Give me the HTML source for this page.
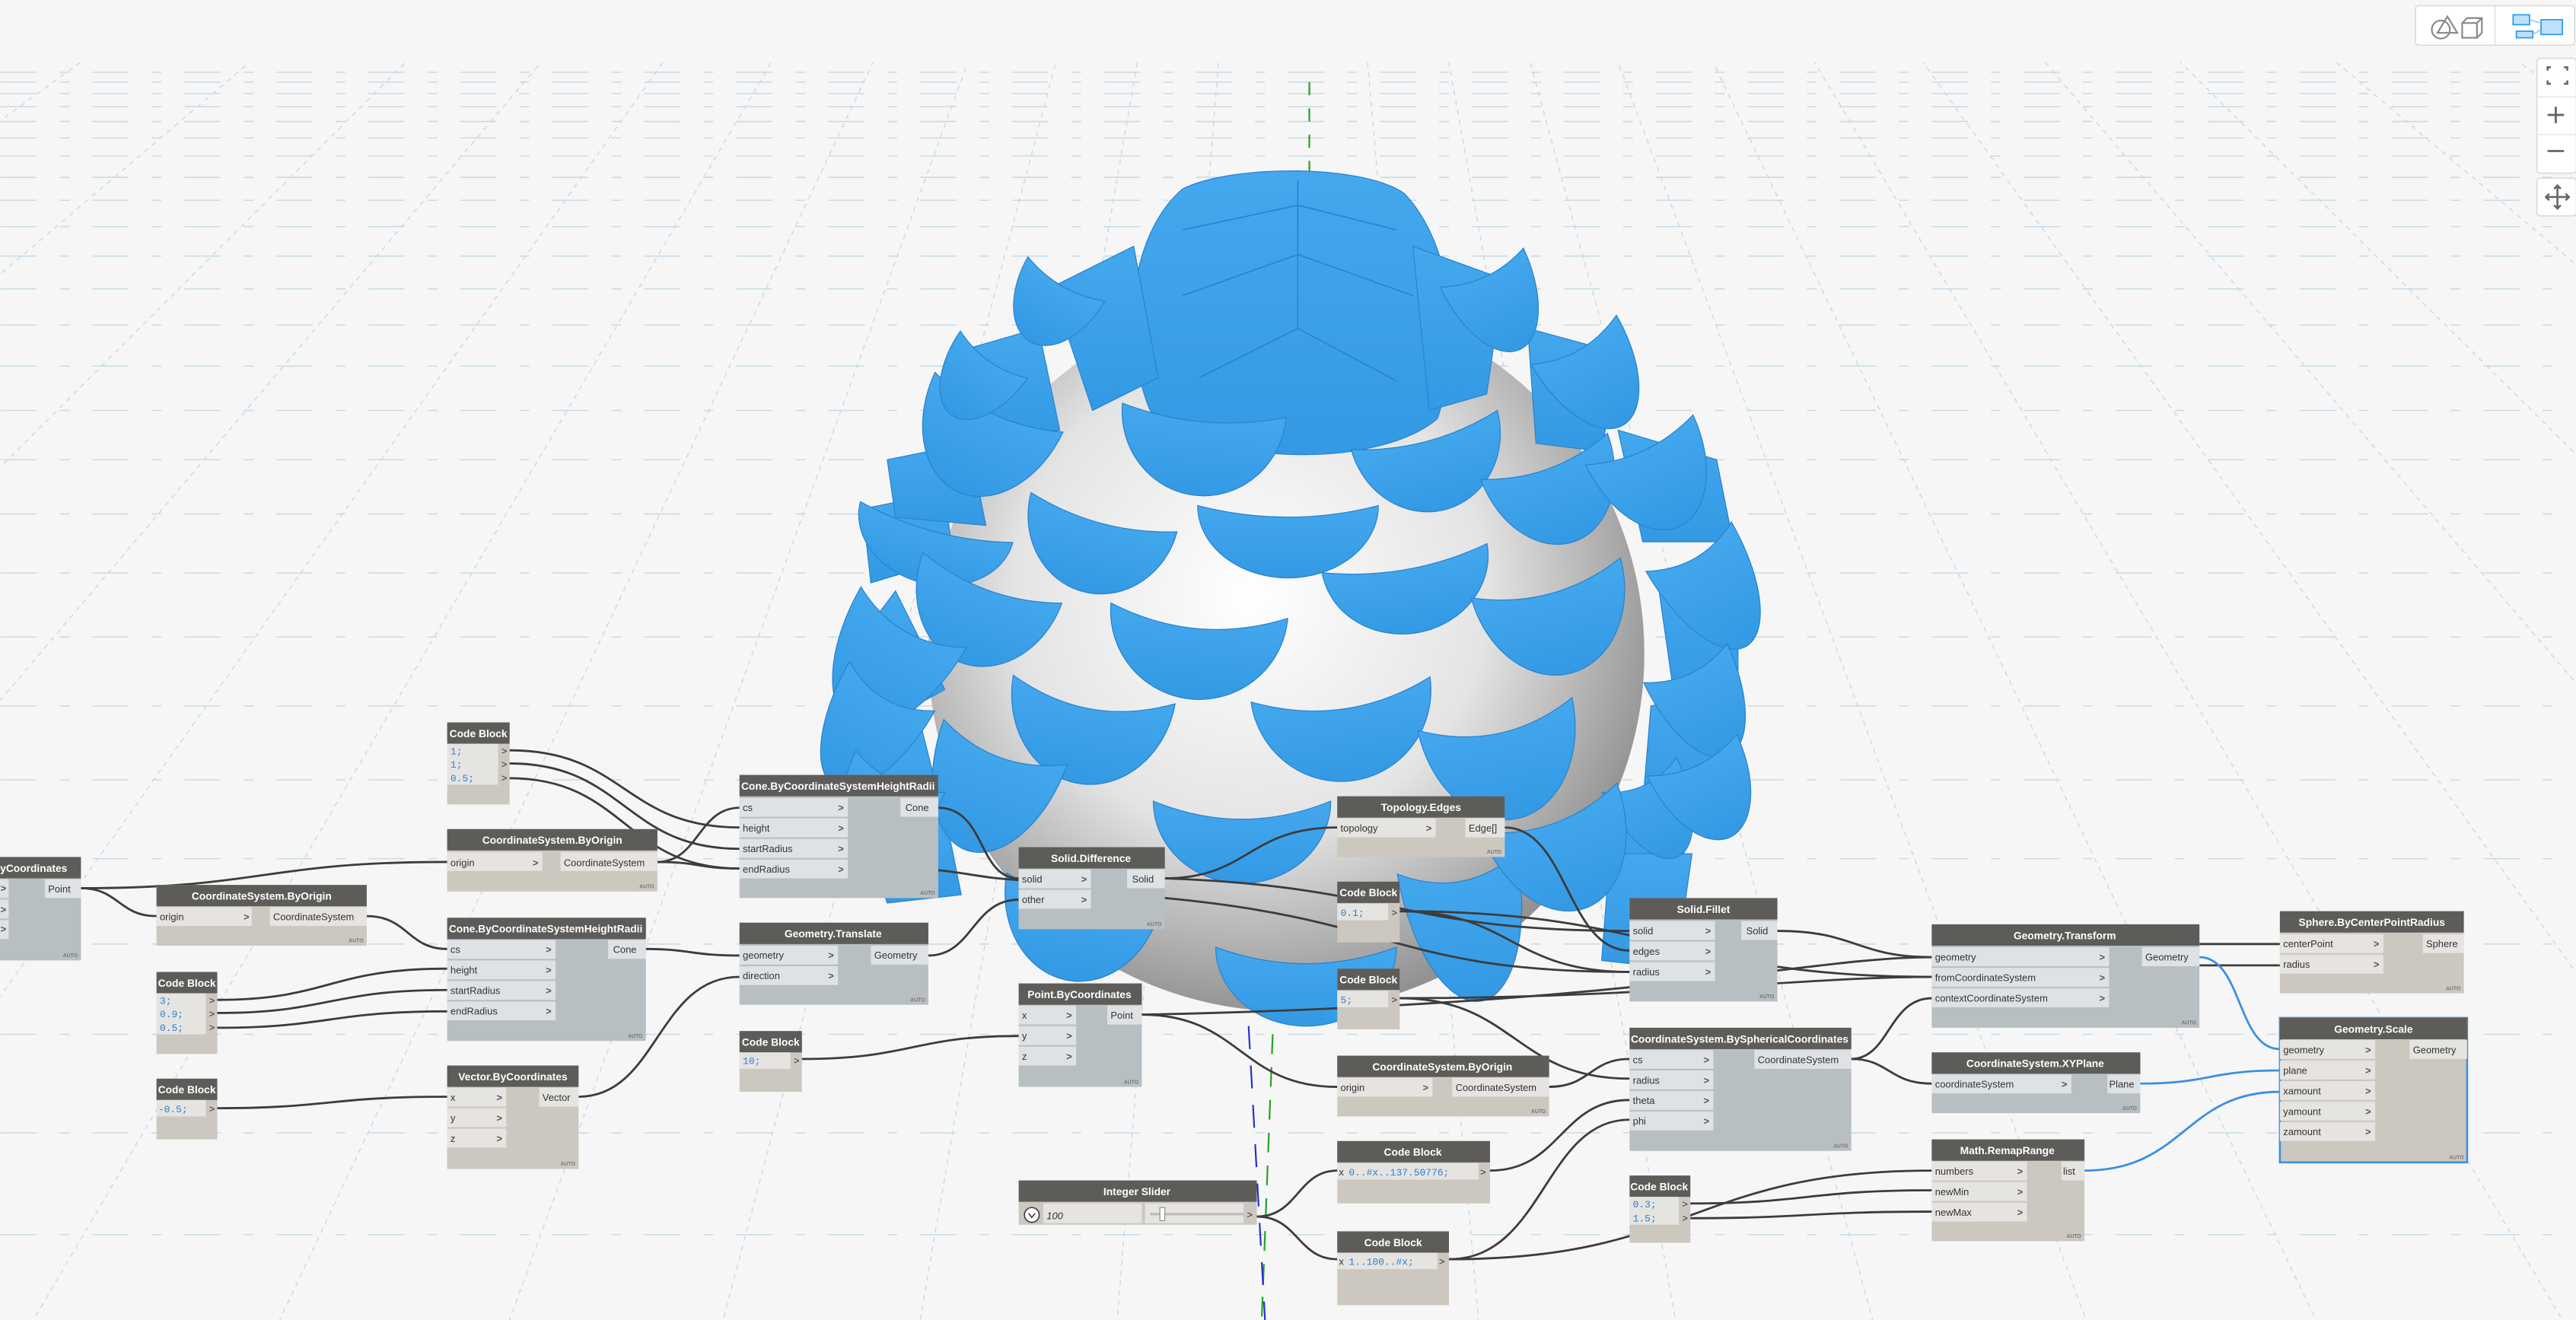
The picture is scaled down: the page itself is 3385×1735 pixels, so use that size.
<!DOCTYPE html>
<html><head><meta charset="utf-8"><style>
html,body{margin:0;padding:0;background:#f6f6f6;overflow:hidden}
svg{display:block}
.h{font:600 6.4px "Liberation Sans",sans-serif;fill:#fff;text-anchor:middle}
.l{font:6px "Liberation Sans",sans-serif;fill:#333}
.c{font:6px "Liberation Mono",monospace;fill:#2a7fd4}
.a{font:bold 3.2px "Liberation Sans",sans-serif;fill:#777;text-anchor:end}
.g{font:bold 6px "Liberation Sans",sans-serif;fill:#555}
.w{fill:none;stroke:#3c3c3c;stroke-width:1.3}
.wb{fill:none;stroke:#3a8fe0;stroke-width:1.3}
.p{fill:url(#pg);stroke:#2a84cf;stroke-width:.6}
</style></head><body>
<svg width="3385" height="1735" viewBox="0 0 1568 804" xmlns="http://www.w3.org/2000/svg">
<defs>
<radialGradient id="sg" cx="0.45" cy="0.42" r="0.6"><stop offset="0" stop-color="#ffffff"/><stop offset="0.55" stop-color="#e4e4e4"/><stop offset="1" stop-color="#8e8e8e"/></radialGradient>
<linearGradient id="pg" x1="0" y1="0" x2="0" y2="1"><stop offset="0" stop-color="#44a8ee"/><stop offset="1" stop-color="#3399e4"/></linearGradient>
<clipPath id="gc"><rect x="0" y="38" width="1568" height="766"/></clipPath>
</defs>
<rect width="1568" height="804" fill="#f6f6f6"/>
<g clip-path="url(#gc)" stroke="#c9dae6" stroke-width="0.7" fill="none">
<g stroke-dasharray="3 3">
<path d="M785,-500 L-1600,804 M785,-500 L-1300,804 M785,-500 L-1000,804 M785,-500 L-750,804 M785,-500 L-520,804 M785,-500 L-320,804 M785,-500 L-140,804 M785,-500 L20,804 M785,-500 L170,804 M785,-500 L310,804 M785,-500 L440,804 M785,-500 L560,804 M785,-500 L680,804 M785,-500 L900,804 M785,-500 L1020,804 M785,-500 L1140,804 M785,-500 L1270,804 M785,-500 L1410,804 M785,-500 L1560,804 M785,-500 L1720,804 M785,-500 L1900,804 M785,-500 L2100,804 M785,-500 L2330,804 M785,-500 L2600,804 M785,-500 L2900,804 M785,-500 L3250,804"/>
</g>
<g stroke-dasharray="22 14 6 14">
<path d="M0,44H1568 M0,50H1568 M0,57H1568 M0,65H1568 M0,74H1568 M0,84H1568 M0,95H1568 M0,108H1568 M0,122H1568 M0,138H1568 M0,156H1568 M0,176H1568 M0,198H1568 M0,223H1568 M0,250H1568 M0,280H1568 M0,313H1568 M0,349H1568 M0,388H1568 M0,430H1568 M0,475H1568 M0,523H1568 M0,575H1568 M0,630H1568 M0,690H1568 M0,752H1568"/>
</g>
</g>
<!-- axis -->
<path d="M797,50V110" stroke="#22a020" stroke-width="1" stroke-dasharray="8 8"/>
<path d="M777,570L768,804" stroke="#22a020" stroke-width="1" stroke-dasharray="12 8"/>
<path d="M760,625L770,804" stroke="#2030d0" stroke-width="1" stroke-dasharray="14 10"/>
<!-- sphere -->
<circle cx="783" cy="398" r="218" fill="url(#sg)"/>
<!-- crown -->
<g class="p">
<path d="M700,250 C680,200 690,140 720,115 C750,100 830,100 855,118 C885,150 890,210 875,255 C840,285 740,285 700,250Z"/>
<path d="M640,175 L690,150 L705,230 L665,250Z"/>
<path d="M860,150 L915,170 L905,240 L870,250Z"/>
<path d="M580,215 L632,200 L645,262 L600,268Z"/>
<path d="M930,200 L985,215 L975,275 L935,270Z"/>
<path d="M985,262 L1045,280 L1055,330 L1000,330Z"/>
<path d="M525,310 L575,300 L580,340 L530,355Z"/>
<path d="M515,400 L545,360 L575,420 L520,450Z"/>
<path d="M515,460 L560,440 L580,520 L525,505Z"/>
<path d="M1010,360 L1058,345 L1058,420 L1020,430Z"/>
<path d="M1005,430 L1055,420 L1050,500 L1000,490Z"/>
<path d="M990,490 L1030,480 L1020,560 L985,560Z"/>
<path d="M540,280 L590,270 L600,320 L545,315Z"/>
<path d="M980,520 L1030,520 L1020,590 L975,585Z"/>
<path d="M525,505 L575,495 L585,545 L540,550Z"/>
</g>
<path d="M720,180 L790,155 L860,180 M730,230 L790,200 L850,232 M790,110V200 M720,140 L790,125 L850,140" fill="none" stroke="#2a84cf" stroke-width="0.8"/>
<g class="p">
<path d="M-55,0 A55 44 0 0 0 55,0 Q0,14 -55,0Z" transform="translate(784,308)"/>
<path d="M-46,0 A46 50 0 0 0 46,0 Q0,14 -46,0Z" transform="translate(672,312) rotate(15)"/>
<path d="M-51,0 A51 46 0 0 0 51,0 Q0,14 -51,0Z" transform="translate(855,340) rotate(-10)"/>
<path d="M-54,0 A54 54 0 0 0 54,0 Q0,22 -54,0Z" transform="translate(730,372) rotate(5)"/>
<path d="M-55,0 A55 56 0 0 0 55,0 Q0,24 -55,0Z" transform="translate(816,420) rotate(-8)"/>
<path d="M-50,0 A50 58 0 0 0 50,0 Q0,24 -50,0Z" transform="translate(666,420) rotate(10)"/>
<path d="M-47,0 A47 60 0 0 0 47,0 Q0,20 -47,0Z" transform="translate(941,352) rotate(-15)"/>
<path d="M-46,0 A46 50 0 0 0 46,0 Q0,14 -46,0Z" transform="translate(867,262) rotate(-15)"/>
<path d="M-50,0 A50 52 0 0 0 50,0 Q0,14 -50,0Z" transform="translate(733,250) rotate(5)"/>
<path d="M-54,0 A54 50 0 0 0 54,0 Q0,22 -54,0Z" transform="translate(756,488)"/>
<path d="M-48,0 A48 65 0 0 0 48,0 Q0,24 -48,0Z" transform="translate(910,435) rotate(-12)"/>
<path d="M-41,0 A41 55 0 0 0 41,0 Q0,16 -41,0Z" transform="translate(940,278) rotate(-20)"/>
<path d="M-43,0 A43 60 0 0 0 43,0 Q0,16 -43,0Z" transform="translate(608,245) rotate(25)"/>
<path d="M-48,0 A48 38 0 0 0 48,0 Q0,12 -48,0Z" transform="translate(570,318) rotate(15)"/>
<path d="M-45,0 A45 55 0 0 0 45,0 Q0,16 -45,0Z" transform="translate(604,352) rotate(20)"/>
<path d="M-37,0 A37 75 0 0 0 37,0 Q0,20 -37,0Z" transform="translate(556,376) rotate(30)"/>
<path d="M-40,0 A40 70 0 0 0 40,0 Q0,20 -40,0Z" transform="translate(612,452) rotate(20)"/>
<path d="M-30,0 A30 70 0 0 0 30,0 Q0,18 -30,0Z" transform="translate(543,418) rotate(30)"/>
<path d="M-25,0 A25 45 0 0 0 25,0 Q0,10 -25,0Z" transform="translate(605,216) rotate(35)"/>
<path d="M-27,0 A27 44 0 0 0 27,0 Q0,10 -27,0Z" transform="translate(649,170) rotate(30)"/>
<path d="M-36,0 A36 58 0 0 0 36,0 Q0,14 -36,0Z" transform="translate(998,268) rotate(-25)"/>
<path d="M-30,0 A30 70 0 0 0 30,0 Q0,16 -30,0Z" transform="translate(1028,333) rotate(-30)"/>
<path d="M-28,0 A28 62 0 0 0 28,0 Q0,14 -28,0Z" transform="translate(1026,404) rotate(-25)"/>
<path d="M-25,0 A25 55 0 0 0 25,0 Q0,14 -25,0Z" transform="translate(998,472) rotate(-25)"/>
<path d="M-30,0 A30 60 0 0 0 30,0 Q0,14 -30,0Z" transform="translate(958,207) rotate(-30)"/>
<path d="M-28,0 A28 55 0 0 0 28,0 Q0,12 -28,0Z" transform="translate(902,163) rotate(-25)"/>
<path d="M-48,0 A48 58 0 0 0 48,0 Q0,20 -48,0Z" transform="translate(660,540) rotate(10)"/>
<path d="M-55,0 A55 48 0 0 0 55,0 Q0,20 -55,0Z" transform="translate(795,577)"/>
<path d="M-37,0 A37 85 0 0 0 37,0 Q0,22 -37,0Z" transform="translate(887,526) rotate(-10)"/>
<path d="M-44,0 A44 65 0 0 0 44,0 Q0,20 -44,0Z" transform="translate(943,492) rotate(-20)"/>
<path d="M-30,0 A30 55 0 0 0 30,0 Q0,14 -30,0Z" transform="translate(1030,460) rotate(-25)"/>
<path d="M-30,0 A30 55 0 0 0 30,0 Q0,14 -30,0Z" transform="translate(548,470) rotate(25)"/>
</g>

<!-- wires -->
<g class="w">
<path d="M49,541 C72,541 72,558 95,558"/>
<path d="M49,541 C160,541 160,525 272,525"/>
<path d="M310,457 C380,457 380,504 450,504"/>
<path d="M310,465 C380,465 380,517 450,517"/>
<path d="M310,474 C380,474 380,529 450,529"/>
<path d="M400,525 C425,525 425,492 450,492"/>
<path d="M400,525 C425,525 425,529 450,529"/>
<path d="M223,558 C248,558 248,578 272,578"/>
<path d="M132,609 C200,609 200,590 272,590"/>
<path d="M132,617 C200,617 200,603 272,603"/>
<path d="M132,626 C200,626 200,616 272,616"/>
<path d="M132,675 C200,675 200,668 272,668"/>
<path d="M393,578 C420,578 420,582 450,582"/>
<path d="M352,668 C400,668 400,595 450,595"/>
<path d="M571,492 C600,492 595,535 620,535"/>
<path d="M571,530 C590,532 600,535 620,536"/>
<path d="M565,582 C592,582 592,548 620,548"/>
<path d="M709,535 C760,535 760,504 814,504"/>
<path d="M709,535 C850,540 850,567 992,567"/>
<path d="M709,547 C850,560 850,592 992,592"/>
<path d="M916,504 C954,504 954,579 992,579"/>
<path d="M852,555 C920,555 920,592 992,592"/>
<path d="M1082,567 C1130,567 1130,583 1176,583"/>
<path d="M852,555 C1010,555 1020,595 1176,595"/>
<path d="M695,618 C1000,612 1100,583 1176,583"/>
<path d="M852,608 C1000,608 1100,595 1176,595"/>
<path d="M1339,575 L1388,575"/>
<path d="M1339,588 L1388,588"/>
<path d="M488,645 C555,645 555,631 620,631"/>
<path d="M695,618 C755,618 755,662 814,662"/>
<path d="M943,662 C968,662 968,645 992,645"/>
<path d="M852,608 C922,608 922,657 992,657"/>
<path d="M1127,645 C1150,645 1150,608 1176,608"/>
<path d="M1127,645 C1150,645 1150,660 1176,660"/>
<path d="M765,741 C790,741 790,713 814,713"/>
<path d="M765,741 C790,741 790,767 814,767"/>
<path d="M907,713 C950,713 950,670 992,670"/>
<path d="M882,767 C940,767 940,682 992,682"/>
<path d="M882,767 C1030,767 1030,713 1176,713"/>
<path d="M1029,733 C1100,733 1100,725 1176,725"/>
<path d="M1029,742 C1100,742 1100,738 1176,738"/>
</g>
<g class="wb">
<path d="M1339,583 C1365,583 1362,639 1388,639"/>
<path d="M1303,660 C1345,660 1345,652 1388,652"/>
<path d="M1269,713 C1330,713 1330,665 1388,665"/>
</g>

<!-- nodes -->
<g><rect x="-30" y="522" width="79" height="63" fill="#b8bfc2"/><rect x="-30" y="522" width="79" height="13" fill="#5d5c59"/><text class="h" x="9" y="531">Point.ByCoordinates</text>
<rect x="-30" y="535.5" width="35" height="11.5" fill="#dfe2e4"/><rect x="-30" y="548" width="35" height="11.5" fill="#dfe2e4"/><rect x="-30" y="560.5" width="35" height="11.5" fill="#dfe2e4"/>
<text class="g" x="0" y="543">&gt;</text><text class="g" x="0" y="556">&gt;</text><text class="g" x="0" y="568">&gt;</text>
<rect x="27" y="535.5" width="22" height="11.5" fill="#dfe2e4"/><text class="l" x="29" y="543.5">Point</text><text class="a" x="47" y="583">AUTO</text></g>
<g><rect x="95" y="539" width="128" height="37" fill="#ccc8c0"/><rect x="95" y="539" width="128" height="13" fill="#5d5c59"/><text class="h" x="159" y="548">CoordinateSystem.ByOrigin</text>
<rect x="95" y="552.5" width="58" height="11.5" fill="#e6e4e0"/><text class="l" x="97" y="560.5">origin</text><text class="g" x="148" y="560.5">&gt;</text>
<rect x="164" y="552.5" width="59" height="11.5" fill="#e6e4e0"/><text class="l" x="166" y="560.5">CoordinateSystem</text><text class="a" x="221" y="574">AUTO</text></g>
<g><rect x="272" y="440" width="38" height="50" fill="#ccc8c0"/><rect x="272" y="440" width="38" height="13" fill="#5d5c59"/><text class="h" x="291" y="449">Code Block</text>
<rect x="272" y="453" width="31" height="25" fill="#e6e4e0"/>
<text class="c" x="274" y="459.5">1;</text><text class="c" x="274" y="467.5">1;</text><text class="c" x="274" y="476">0.5;</text>
<text class="l" x="305" y="459.5">&gt;</text><text class="l" x="305" y="467.5">&gt;</text><text class="l" x="305" y="476">&gt;</text></g>
<g><rect x="272" y="505" width="128" height="38" fill="#ccc8c0"/><rect x="272" y="505" width="128" height="13" fill="#5d5c59"/><text class="h" x="336" y="514">CoordinateSystem.ByOrigin</text>
<rect x="272" y="519" width="58" height="11.5" fill="#e6e4e0"/><text class="l" x="274" y="527.5">origin</text><text class="g" x="324" y="527.5">&gt;</text>
<rect x="341" y="519" width="59" height="11.5" fill="#e6e4e0"/><text class="l" x="343" y="527.5">CoordinateSystem</text><text class="a" x="398" y="541">AUTO</text></g>
<g><rect x="450" y="472" width="121" height="75" fill="#b8bfc2"/><rect x="450" y="472" width="121" height="13" fill="#5d5c59"/><text class="h" x="510" y="481">Cone.ByCoordinateSystemHeightRadii</text>
<rect x="450" y="486" width="66" height="11.5" fill="#dfe2e4"/><rect x="450" y="498.5" width="66" height="11.5" fill="#dfe2e4"/><rect x="450" y="511" width="66" height="11.5" fill="#dfe2e4"/><rect x="450" y="523.5" width="66" height="11.5" fill="#dfe2e4"/>
<text class="l" x="452" y="494">cs</text><text class="l" x="452" y="506.5">height</text><text class="l" x="452" y="519">startRadius</text><text class="l" x="452" y="531.5">endRadius</text>
<text class="g" x="510" y="494">&gt;</text><text class="g" x="510" y="506.5">&gt;</text><text class="g" x="510" y="519">&gt;</text><text class="g" x="510" y="531.5">&gt;</text>
<rect x="548" y="486" width="23" height="11.5" fill="#dfe2e4"/><text class="l" x="551" y="494">Cone</text><text class="a" x="569" y="545">AUTO</text></g>
<g><rect x="272" y="559" width="121" height="75" fill="#b8bfc2"/><rect x="272" y="559" width="121" height="13" fill="#5d5c59"/><text class="h" x="332" y="568">Cone.ByCoordinateSystemHeightRadii</text>
<rect x="272" y="572.5" width="66" height="11.5" fill="#dfe2e4"/><rect x="272" y="585" width="66" height="11.5" fill="#dfe2e4"/><rect x="272" y="597.5" width="66" height="11.5" fill="#dfe2e4"/><rect x="272" y="610" width="66" height="11.5" fill="#dfe2e4"/>
<text class="l" x="274" y="580.5">cs</text><text class="l" x="274" y="593">height</text><text class="l" x="274" y="605.5">startRadius</text><text class="l" x="274" y="618">endRadius</text>
<text class="g" x="332" y="580.5">&gt;</text><text class="g" x="332" y="593">&gt;</text><text class="g" x="332" y="605.5">&gt;</text><text class="g" x="332" y="618">&gt;</text>
<rect x="370" y="572.5" width="23" height="11.5" fill="#dfe2e4"/><text class="l" x="373" y="580.5">Cone</text><text class="a" x="391" y="632">AUTO</text></g>
<g><rect x="95" y="592" width="37" height="50" fill="#ccc8c0"/><rect x="95" y="592" width="37" height="13" fill="#5d5c59"/><text class="h" x="113.5" y="601">Code Block</text>
<rect x="95" y="605" width="30" height="25" fill="#e6e4e0"/>
<text class="c" x="97" y="611.5">3;</text><text class="c" x="97" y="619.5">0.9;</text><text class="c" x="97" y="628">0.5;</text>
<text class="l" x="127" y="611.5">&gt;</text><text class="l" x="127" y="619.5">&gt;</text><text class="l" x="127" y="628">&gt;</text></g>
<g><rect x="95" y="657" width="37" height="37" fill="#ccc8c0"/><rect x="95" y="657" width="37" height="13" fill="#5d5c59"/><text class="h" x="113.5" y="666">Code Block</text>
<rect x="95" y="670" width="30" height="10" fill="#e6e4e0"/><text class="c" x="96" y="677.5">-0.5;</text><text class="l" x="127" y="677.5">&gt;</text></g>
<g><rect x="272" y="649" width="80" height="63" fill="#ccc8c0"/><rect x="272" y="649" width="80" height="13" fill="#5d5c59"/><text class="h" x="312" y="658">Vector.ByCoordinates</text>
<rect x="272" y="662.5" width="36" height="11.5" fill="#e6e4e0"/><rect x="272" y="675" width="36" height="11.5" fill="#e6e4e0"/><rect x="272" y="687.5" width="36" height="11.5" fill="#e6e4e0"/>
<text class="l" x="274" y="670.5">x</text><text class="l" x="274" y="683">y</text><text class="l" x="274" y="695.5">z</text>
<text class="g" x="302" y="670.5">&gt;</text><text class="g" x="302" y="683">&gt;</text><text class="g" x="302" y="695.5">&gt;</text>
<rect x="328" y="662.5" width="24" height="11.5" fill="#e6e4e0"/><text class="l" x="330" y="670.5">Vector</text><text class="a" x="350" y="710">AUTO</text></g>
<g><rect x="450" y="562" width="115" height="50" fill="#b8bfc2"/><rect x="450" y="562" width="115" height="13" fill="#5d5c59"/><text class="h" x="507" y="571">Geometry.Translate</text>
<rect x="450" y="576" width="60" height="11.5" fill="#dfe2e4"/><rect x="450" y="588.5" width="60" height="11.5" fill="#dfe2e4"/>
<text class="l" x="452" y="584">geometry</text><text class="l" x="452" y="596.5">direction</text>
<text class="g" x="504" y="584">&gt;</text><text class="g" x="504" y="596.5">&gt;</text>
<rect x="530" y="576" width="35" height="11.5" fill="#dfe2e4"/><text class="l" x="532" y="584">Geometry</text><text class="a" x="563" y="610">AUTO</text></g>
<g><rect x="450" y="628" width="38" height="37" fill="#ccc8c0"/><rect x="450" y="628" width="38" height="13" fill="#5d5c59"/><text class="h" x="469" y="637">Code Block</text>
<rect x="450" y="641" width="31" height="10" fill="#e6e4e0"/><text class="c" x="452" y="648">10;</text><text class="l" x="483" y="648">&gt;</text></g>
<g><rect x="620" y="516" width="89" height="50" fill="#b8bfc2"/><rect x="620" y="516" width="89" height="13" fill="#5d5c59"/><text class="h" x="664" y="525">Solid.Difference</text>
<rect x="620" y="529.5" width="44" height="11.5" fill="#dfe2e4"/><rect x="620" y="542" width="44" height="11.5" fill="#dfe2e4"/>
<text class="l" x="622" y="537.5">solid</text><text class="l" x="622" y="550">other</text>
<text class="g" x="658" y="537.5">&gt;</text><text class="g" x="658" y="550">&gt;</text>
<rect x="686" y="529.5" width="23" height="11.5" fill="#dfe2e4"/><text class="l" x="689" y="537.5">Solid</text><text class="a" x="707" y="564">AUTO</text></g>
<g><rect x="814" y="485" width="102" height="37" fill="#ccc8c0"/><rect x="814" y="485" width="102" height="13" fill="#5d5c59"/><text class="h" x="865" y="494">Topology.Edges</text>
<rect x="814" y="498.5" width="60" height="11.5" fill="#e6e4e0"/><text class="l" x="816" y="506.5">topology</text><text class="g" x="868" y="506.5">&gt;</text>
<rect x="892" y="498.5" width="24" height="11.5" fill="#e6e4e0"/><text class="l" x="894" y="506.5">Edge[]</text><text class="a" x="914" y="520">AUTO</text></g>
<g><rect x="814" y="537" width="38" height="37" fill="#ccc8c0"/><rect x="814" y="537" width="38" height="13" fill="#5d5c59"/><text class="h" x="833" y="546">Code Block</text>
<rect x="814" y="550.5" width="31" height="10" fill="#e6e4e0"/><text class="c" x="816" y="558">0.1;</text><text class="l" x="847" y="558">&gt;</text></g>
<g><rect x="992" y="547" width="90" height="63" fill="#b8bfc2"/><rect x="992" y="547" width="90" height="13" fill="#5d5c59"/><text class="h" x="1037" y="556">Solid.Fillet</text>
<rect x="992" y="561" width="52" height="11.5" fill="#dfe2e4"/><rect x="992" y="573.5" width="52" height="11.5" fill="#dfe2e4"/><rect x="992" y="586" width="52" height="11.5" fill="#dfe2e4"/>
<text class="l" x="994" y="569">solid</text><text class="l" x="994" y="581.5">edges</text><text class="l" x="994" y="594">radius</text>
<text class="g" x="1038" y="569">&gt;</text><text class="g" x="1038" y="581.5">&gt;</text><text class="g" x="1038" y="594">&gt;</text>
<rect x="1060" y="561" width="22" height="11.5" fill="#dfe2e4"/><text class="l" x="1063" y="569">Solid</text><text class="a" x="1080" y="608">AUTO</text></g>
<g><rect x="814" y="590" width="38" height="37" fill="#ccc8c0"/><rect x="814" y="590" width="38" height="13" fill="#5d5c59"/><text class="h" x="833" y="599">Code Block</text>
<rect x="814" y="603.5" width="31" height="10" fill="#e6e4e0"/><text class="c" x="816" y="611">5;</text><text class="l" x="847" y="611">&gt;</text></g>
<g><rect x="620" y="599" width="75" height="63" fill="#b8bfc2"/><rect x="620" y="599" width="75" height="13" fill="#5d5c59"/><text class="h" x="657" y="608">Point.ByCoordinates</text>
<rect x="620" y="612.5" width="35" height="11.5" fill="#dfe2e4"/><rect x="620" y="625" width="35" height="11.5" fill="#dfe2e4"/><rect x="620" y="637.5" width="35" height="11.5" fill="#dfe2e4"/>
<text class="l" x="622" y="620.5">x</text><text class="l" x="622" y="633">y</text><text class="l" x="622" y="645.5">z</text>
<text class="g" x="649" y="620.5">&gt;</text><text class="g" x="649" y="633">&gt;</text><text class="g" x="649" y="645.5">&gt;</text>
<rect x="674" y="612.5" width="21" height="11.5" fill="#dfe2e4"/><text class="l" x="676" y="620.5">Point</text><text class="a" x="693" y="660">AUTO</text></g>
<g><rect x="814" y="643" width="129" height="37" fill="#ccc8c0"/><rect x="814" y="643" width="129" height="13" fill="#5d5c59"/><text class="h" x="878" y="652">CoordinateSystem.ByOrigin</text>
<rect x="814" y="656.5" width="58" height="11.5" fill="#e6e4e0"/><text class="l" x="816" y="664.5">origin</text><text class="g" x="866" y="664.5">&gt;</text>
<rect x="884" y="656.5" width="59" height="11.5" fill="#e6e4e0"/><text class="l" x="886" y="664.5">CoordinateSystem</text><text class="a" x="941" y="678">AUTO</text></g>
<g><rect x="992" y="626" width="135" height="75" fill="#b8bfc2"/><rect x="992" y="626" width="135" height="13" fill="#5d5c59"/><text class="h" x="1059" y="635">CoordinateSystem.BySphericalCoordinates</text>
<rect x="992" y="639.5" width="51" height="11.5" fill="#dfe2e4"/><rect x="992" y="652" width="51" height="11.5" fill="#dfe2e4"/><rect x="992" y="664.5" width="51" height="11.5" fill="#dfe2e4"/><rect x="992" y="677" width="51" height="11.5" fill="#dfe2e4"/>
<text class="l" x="994" y="647.5">cs</text><text class="l" x="994" y="660">radius</text><text class="l" x="994" y="672.5">theta</text><text class="l" x="994" y="685">phi</text>
<text class="g" x="1037" y="647.5">&gt;</text><text class="g" x="1037" y="660">&gt;</text><text class="g" x="1037" y="672.5">&gt;</text><text class="g" x="1037" y="685">&gt;</text>
<rect x="1068" y="639.5" width="59" height="11.5" fill="#dfe2e4"/><text class="l" x="1070" y="647.5">CoordinateSystem</text><text class="a" x="1125" y="699">AUTO</text></g>
<g><rect x="1176" y="563" width="163" height="63" fill="#b8bfc2"/><rect x="1176" y="563" width="163" height="13" fill="#5d5c59"/><text class="h" x="1257" y="572">Geometry.Transform</text>
<rect x="1176" y="577" width="108" height="11.5" fill="#dfe2e4"/><rect x="1176" y="589.5" width="108" height="11.5" fill="#dfe2e4"/><rect x="1176" y="602" width="108" height="11.5" fill="#dfe2e4"/>
<text class="l" x="1178" y="585">geometry</text><text class="l" x="1178" y="597.5">fromCoordinateSystem</text><text class="l" x="1178" y="610">contextCoordinateSystem</text>
<text class="g" x="1278" y="585">&gt;</text><text class="g" x="1278" y="597.5">&gt;</text><text class="g" x="1278" y="610">&gt;</text>
<rect x="1304" y="577" width="35" height="11.5" fill="#dfe2e4"/><text class="l" x="1306" y="585">Geometry</text><text class="a" x="1337" y="624">AUTO</text></g>
<g><rect x="1176" y="641" width="127" height="37" fill="#b8bfc2"/><rect x="1176" y="641" width="127" height="13" fill="#5d5c59"/><text class="h" x="1239" y="650">CoordinateSystem.XYPlane</text>
<rect x="1176" y="654.5" width="85" height="11.5" fill="#dfe2e4"/><text class="l" x="1178" y="662.5">coordinateSystem</text><text class="g" x="1255" y="662.5">&gt;</text>
<rect x="1283" y="654.5" width="20" height="11.5" fill="#dfe2e4"/><text class="l" x="1284" y="662.5">Plane</text><text class="a" x="1301" y="676">AUTO</text></g>
<g><rect x="1388" y="555" width="112" height="50" fill="#ccc8c0"/><rect x="1388" y="555" width="112" height="13" fill="#5d5c59"/><text class="h" x="1444" y="564">Sphere.ByCenterPointRadius</text>
<rect x="1388" y="569" width="63" height="11.5" fill="#e6e4e0"/><rect x="1388" y="581.5" width="63" height="11.5" fill="#e6e4e0"/>
<text class="l" x="1390" y="577">centerPoint</text><text class="l" x="1390" y="589.5">radius</text>
<text class="g" x="1445" y="577">&gt;</text><text class="g" x="1445" y="589.5">&gt;</text>
<rect x="1475" y="569" width="25" height="11.5" fill="#e6e4e0"/><text class="l" x="1477" y="577">Sphere</text><text class="a" x="1498" y="603">AUTO</text></g>
<g><rect x="1388" y="620" width="114" height="88" fill="#ccc8c0" stroke="#3a8fe0" stroke-width="1.2"/><rect x="1388" y="620" width="114" height="13" fill="#5d5c59"/><text class="h" x="1445" y="629">Geometry.Scale</text>
<rect x="1388" y="633.5" width="58" height="11.5" fill="#e6e4e0"/><rect x="1388" y="646" width="58" height="11.5" fill="#e6e4e0"/><rect x="1388" y="658.5" width="58" height="11.5" fill="#e6e4e0"/><rect x="1388" y="671" width="58" height="11.5" fill="#e6e4e0"/><rect x="1388" y="683.5" width="58" height="11.5" fill="#e6e4e0"/>
<text class="l" x="1390" y="641.5">geometry</text><text class="l" x="1390" y="654">plane</text><text class="l" x="1390" y="666.5">xamount</text><text class="l" x="1390" y="679">yamount</text><text class="l" x="1390" y="691.5">zamount</text>
<text class="g" x="1440" y="641.5">&gt;</text><text class="g" x="1440" y="654">&gt;</text><text class="g" x="1440" y="666.5">&gt;</text><text class="g" x="1440" y="679">&gt;</text><text class="g" x="1440" y="691.5">&gt;</text>
<rect x="1467" y="633.5" width="35" height="11.5" fill="#e6e4e0"/><text class="l" x="1469" y="641.5">Geometry</text><text class="a" x="1500" y="706">AUTO</text></g>
<g><rect x="1176" y="694" width="93" height="62" fill="#ccc8c0"/><rect x="1176" y="694" width="93" height="13" fill="#5d5c59"/><text class="h" x="1222" y="703">Math.RemapRange</text>
<rect x="1176" y="707.5" width="58" height="11.5" fill="#e6e4e0"/><rect x="1176" y="720" width="58" height="11.5" fill="#e6e4e0"/><rect x="1176" y="732.5" width="58" height="11.5" fill="#e6e4e0"/>
<text class="l" x="1178" y="715.5">numbers</text><text class="l" x="1178" y="728">newMin</text><text class="l" x="1178" y="740.5">newMax</text>
<text class="g" x="1228" y="715.5">&gt;</text><text class="g" x="1228" y="728">&gt;</text><text class="g" x="1228" y="740.5">&gt;</text>
<rect x="1255" y="707.5" width="14" height="11.5" fill="#e6e4e0"/><text class="l" x="1256" y="715.5">list</text><text class="a" x="1267" y="754">AUTO</text></g>
<g><rect x="620" y="719" width="145" height="27" fill="#ccc8c0"/><rect x="620" y="719" width="145" height="13" fill="#5d5c59"/><text class="h" x="692" y="728">Integer Slider</text>
<circle cx="628" cy="740" r="4.5" fill="#fff" stroke="#444" stroke-width="0.8"/><path d="M626,739 L628,741.5 L630,739" fill="none" stroke="#444" stroke-width="0.8"/>
<rect x="635" y="733" width="60" height="12" fill="#e6e4e0"/><text class="l" x="637" y="742.5" style="font-style:italic">100</text>
<rect x="697" y="733" width="60" height="12" fill="#e6e4e0"/><path d="M700,739.5H757" stroke="#bbb" stroke-width="1.5"/><rect x="706" y="735.5" width="3" height="8" fill="#fff" stroke="#888" stroke-width="0.5"/>
<text class="l" x="759" y="742">&gt;</text></g>
<g><rect x="814" y="695" width="93" height="38" fill="#ccc8c0"/><rect x="814" y="695" width="93" height="13" fill="#5d5c59"/><text class="h" x="860" y="704">Code Block</text>
<rect x="814" y="708.5" width="86" height="10" fill="#e6e4e0"/><text class="l" x="815" y="716">x</text><text class="c" x="821" y="716">0..#x..137.50776;</text><text class="l" x="901" y="716">&gt;</text></g>
<g><rect x="992" y="716" width="37" height="41" fill="#ccc8c0"/><rect x="992" y="716" width="37" height="13" fill="#5d5c59"/><text class="h" x="1010" y="725">Code Block</text>
<rect x="992" y="729" width="30" height="17" fill="#e6e4e0"/><text class="c" x="994" y="735.5">0.3;</text><text class="c" x="994" y="744">1.5;</text>
<text class="l" x="1024" y="735.5">&gt;</text><text class="l" x="1024" y="744">&gt;</text></g>
<g><rect x="814" y="750" width="68" height="45" fill="#ccc8c0"/><rect x="814" y="750" width="68" height="13" fill="#5d5c59"/><text class="h" x="848" y="759">Code Block</text>
<rect x="814" y="763" width="61" height="10" fill="#e6e4e0"/><text class="l" x="815" y="770.5">x</text><text class="c" x="821" y="770.5">1..100..#x;</text><text class="l" x="876" y="770.5">&gt;</text></g>

<!-- toolbar -->
<rect x="1470.5" y="3.5" width="97" height="24" rx="2" fill="#fff" stroke="#d8d8d8" stroke-width="0.7"/>
<path d="M1519,4V27" stroke="#ddd" stroke-width="0.6"/>
<circle cx="1486" cy="18" r="5.5" fill="none" stroke="#888" stroke-width="1"/><path d="M1490,10 L1496,20 H1484Z" fill="none" stroke="#888" stroke-width="1"/>
<rect x="1499" y="14" width="9" height="9" fill="none" stroke="#888" stroke-width="1"/><path d="M1499,14 L1502,11 H1511 V20 L1508,23 M1508,14 L1511,11" fill="none" stroke="#888" stroke-width="1"/>
<rect x="1530" y="9" width="10" height="6" fill="#bfe0fa" stroke="#2a9af0" stroke-width="0.8"/><rect x="1532" y="19" width="10" height="4" fill="#bfe0fa" stroke="#2a9af0" stroke-width="0.8"/><rect x="1547" y="12" width="13" height="9" fill="#bfe0fa" stroke="#2a9af0" stroke-width="0.8"/>
<path d="M1540,12 L1547,14 M1542,21 L1547,18" stroke="#7cc0f5" stroke-width="0.6"/>
<rect x="1544.5" y="35.5" width="24" height="70" rx="2" fill="#fff" stroke="#d8d8d8" stroke-width="0.7"/>
<path d="M1545,59H1568 M1545,82H1568" stroke="#e4e4e4" stroke-width="0.6"/>
<path d="M1551,43V41H1553 M1561,41H1563V43 M1563,49V51H1561 M1553,51H1551V49" fill="none" stroke="#666" stroke-width="1.2"/>
<path d="M1556,65V75 M1551,70H1561" stroke="#666" stroke-width="1.3"/>
<path d="M1551,92H1561" stroke="#666" stroke-width="1.3"/>
<rect x="1544.5" y="108.5" width="24" height="23" rx="2" fill="#fff" stroke="#d8d8d8" stroke-width="0.7"/>
<path d="M1557,113V127 M1550,120H1564 M1555,115L1557,113L1559,115 M1555,125L1557,127L1559,125 M1552,118L1550,120L1552,122 M1562,118L1564,120L1562,122" fill="none" stroke="#666" stroke-width="1.2"/>
</svg>
</body></html>
